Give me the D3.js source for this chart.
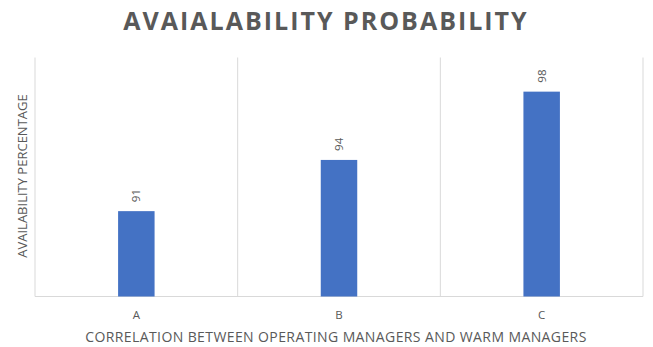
<!DOCTYPE html>
<html><head><meta charset="utf-8">
<script src="https://cdn.jsdelivr.net/npm/d3@7"></script>
<style>body{margin:0;background:#fff}svg{display:block}text{font-family:"Open Sans",sans-serif}</style>
</head><body><svg id="c" width="653" height="347"></svg>
<script>
const categories = ["A", "B", "C"];
const values = [91, 94, 98];
const title = "AVAIALABILITY PROBABILITY";
const xTitle = "CORRELATION BETWEEN OPERATING MANAGERS AND WARM MANAGERS";
const yTitle = "AVAILABILITY PERCENTAGE";

const svg = d3.select("#c");
const m = {left: 35, right: 10, top: 57.5, bottom: 50.5};
const W = 653, H = 347;
const x = d3.scaleBand().domain(categories).range([m.left, W - m.right]).paddingInner(0).paddingOuter(0);
const y = d3.scaleLinear().domain([86, 100]).range([H - m.bottom, m.top]);
const grey = "#595959", grid = "#d9d9d9";

// gridlines at band boundaries
const bounds = categories.map(c => x(c)).concat([x(categories[categories.length-1]) + x.bandwidth()]);
svg.append("g").selectAll("line").data(bounds).join("line")
  .attr("x1", d => d).attr("x2", d => d)
  .attr("y1", y(100)).attr("y2", y(86))
  .attr("stroke", grid).attr("stroke-width", 1);

// baseline
svg.append("line").attr("x1", x.range()[0]).attr("x2", x.range()[1])
  .attr("y1", y(86)).attr("y2", y(86)).attr("stroke", grid).attr("stroke-width", 1);

const bw = x.bandwidth() * 0.18;
svg.append("g").selectAll("rect").data(values).join("rect")
  .attr("x", (d, i) => x(categories[i]) + x.bandwidth()/2 - bw/2)
  .attr("width", bw)
  .attr("y", d => y(d))
  .attr("height", d => y(86) - y(d))
  .attr("fill", "#4472c4");

// value labels (rotated)
svg.append("g").selectAll("text").data(values).join("text")
  .attr("transform", (d, i) => `translate(${x(categories[i]) + x.bandwidth()/2 + 4},${y(d) - 9}) rotate(-90)`)
  .attr("text-anchor", "start")
  .attr("font-size", 11.5).attr("fill", grey)
  .text(d => d);

// x tick labels
svg.append("g").selectAll("text").data(categories).join("text")
  .attr("x", d => x(d) + x.bandwidth()/2)
  .attr("y", 319)
  .attr("text-anchor", "middle")
  .attr("font-size", 11.5).attr("fill", grey)
  .text(d => d);

// titles
svg.append("text").attr("x", 326).attr("y", 30).attr("text-anchor", "middle")
  .attr("font-size", 25).attr("font-weight", "bold").attr("fill", grey)
  .attr("letter-spacing", "2px")
  .text(title);

svg.append("text").attr("x", 336).attr("y", 341.5).attr("text-anchor", "middle")
  .attr("font-size", 14).attr("letter-spacing", "0.4px").attr("fill", grey)
  .text(xTitle);

svg.append("text").attr("transform", "translate(27,176) rotate(-90)").attr("text-anchor", "middle")
  .attr("font-size", 13).attr("fill", grey)
  .text(yTitle);
</script></body></html>
